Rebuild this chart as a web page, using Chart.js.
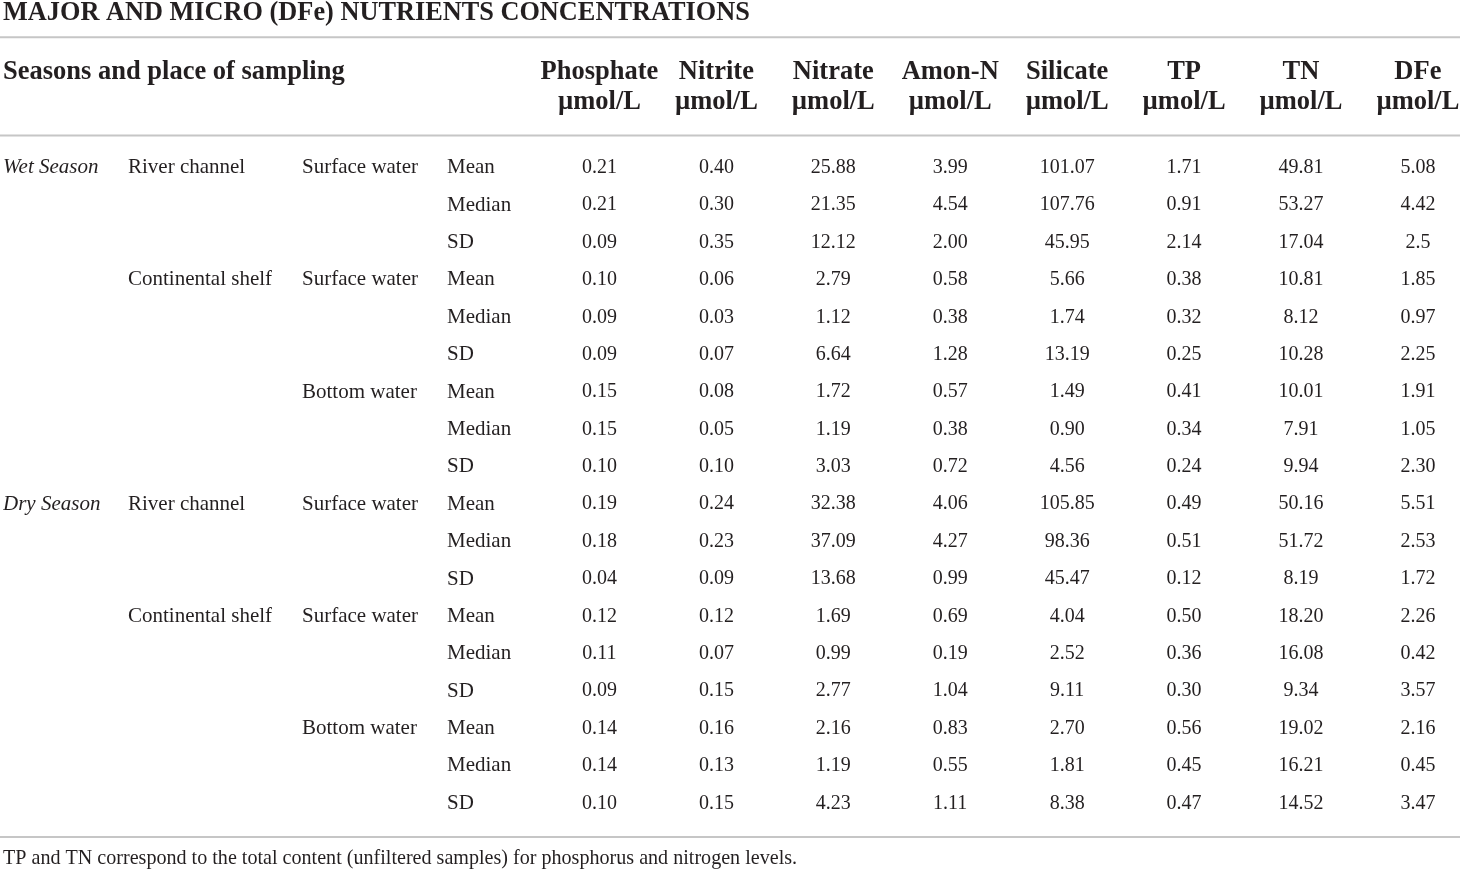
<!DOCTYPE html>
<html>
<head>
<meta charset="utf-8">
<script src="https://cdn.jsdelivr.net/npm/chart.js@4"></script>
<style>
  html, body { margin: 0; padding: 0; background: #fff; }
  #wrap { width: 1460px; height: 869px; }
</style>
</head>
<body>
<div id="wrap"><canvas id="tableChart"></canvas></div>
<script>
// Row labels
const seasonLabels = ['Wet Season', '', '', '', '', '', '', '', '', 'Dry Season', '', '', '', '', '', '', '', ''];
const placeLabels = ['River channel', '', '', 'Continental shelf', '', '', '', '', '', 'River channel', '', '', 'Continental shelf', '', '', '', '', ''];
const waterLabels = ['Surface water', '', '', 'Surface water', '', '', 'Bottom water', '', '', 'Surface water', '', '', 'Surface water', '', '', 'Bottom water', '', ''];
const statLabels = ['Mean', 'Median', 'SD', 'Mean', 'Median', 'SD', 'Mean', 'Median', 'SD',
  'Mean', 'Median', 'SD', 'Mean', 'Median', 'SD', 'Mean', 'Median', 'SD'];

// Column headers
const columnLabels = [
  ['Phosphate', 'µmol/L'], ['Nitrite', 'µmol/L'], ['Nitrate', 'µmol/L'], ['Amon-N', 'µmol/L'],
  ['Silicate', 'µmol/L'], ['TP', 'µmol/L'], ['TN', 'µmol/L'], ['DFe', 'µmol/L']
];

// Values (kept as printed)
const phosphate = ['0.21', '0.21', '0.09', '0.10', '0.09', '0.09', '0.15', '0.15', '0.10', '0.19', '0.18', '0.04', '0.12', '0.11', '0.09', '0.14', '0.14', '0.10'];
const nitrite = ['0.40', '0.30', '0.35', '0.06', '0.03', '0.07', '0.08', '0.05', '0.10', '0.24', '0.23', '0.09', '0.12', '0.07', '0.15', '0.16', '0.13', '0.15'];
const nitrate = ['25.88', '21.35', '12.12', '2.79', '1.12', '6.64', '1.72', '1.19', '3.03', '32.38', '37.09', '13.68', '1.69', '0.99', '2.77', '2.16', '1.19', '4.23'];
const amonN = ['3.99', '4.54', '2.00', '0.58', '0.38', '1.28', '0.57', '0.38', '0.72', '4.06', '4.27', '0.99', '0.69', '0.19', '1.04', '0.83', '0.55', '1.11'];
const silicate = ['101.07', '107.76', '45.95', '5.66', '1.74', '13.19', '1.49', '0.90', '4.56', '105.85', '98.36', '45.47', '4.04', '2.52', '9.11', '2.70', '1.81', '8.38'];
const tp = ['1.71', '0.91', '2.14', '0.38', '0.32', '0.25', '0.41', '0.34', '0.24', '0.49', '0.51', '0.12', '0.50', '0.36', '0.30', '0.56', '0.45', '0.47'];
const tn = ['49.81', '53.27', '17.04', '10.81', '8.12', '10.28', '10.01', '7.91', '9.94', '50.16', '51.72', '8.19', '18.20', '16.08', '9.34', '19.02', '16.21', '14.52'];
const dfe = ['5.08', '4.42', '2.5', '1.85', '0.97', '2.25', '1.91', '1.05', '2.30', '5.51', '2.53', '1.72', '2.26', '0.42', '3.57', '2.16', '0.45', '3.47'];

const columns = [phosphate, nitrite, nitrate, amonN, silicate, tp, tn, dfe];

const FONT = "'Liberation Serif', 'Times New Roman', serif";
const TEXT = '#231f20';
const RULE = '#c6c6c6';
const HEAD_LINE = 30;
const HEAD_GAP = 31.8;
const labelFont = { family: FONT, size: 21 };
const numberSize = 20;
const headFont = { family: FONT, size: 26.5, weight: 'bold', lineHeight: HEAD_LINE + 'px' };

// draws the cell values, header text and the horizontal rules
const tablePlugin = {
  id: 'tablePlugin',
  afterDraw(chart) {
    const ctx = chart.ctx;
    const x = chart.scales.x;
    const y = chart.scales.stat;
    const area = chart.chartArea;

    ctx.save();
    ctx.fillStyle = TEXT;
    ctx.font = numberSize + 'px ' + FONT;
    ctx.textAlign = 'center';
    ctx.textBaseline = 'middle';
    columns.forEach((col, i) => {
      col.forEach((v, j) => {
        ctx.fillText(v, x.getPixelForValue(i), y.getPixelForValue(j));
      });
    });

    // left header cell
    ctx.font = 'bold ' + headFont.size + 'px ' + FONT;
    ctx.textAlign = 'left';
    const headY = x.bottom - HEAD_GAP - 1.5 * HEAD_LINE;
    ctx.fillText('Seasons and place of sampling', chart.scales.season.left, headY);

    // rules
    ctx.strokeStyle = RULE;
    ctx.lineWidth = 2;
    const rules = [chart.titleBlock.bottom - 4, area.top - 13.5, area.bottom + 15];
    rules.forEach(r => {
      ctx.beginPath();
      ctx.moveTo(0, r);
      ctx.lineTo(chart.width, r);
      ctx.stroke();
    });
    ctx.restore();
  }
};

function leftAxis(labels, weight, width, font) {
  return {
    type: 'category',
    position: 'left',
    labels: labels,
    offset: true,
    weight: weight,
    grid: { display: false, drawTicks: false },
    border: { display: false },
    ticks: {
      autoSkip: false,
      crossAlign: 'far',
      padding: 0,
      color: TEXT,
      font: font || labelFont
    },
    afterFit: scale => { scale.width = width; }
  };
}

new Chart(document.getElementById('tableChart'), {
  type: 'scatter',
  data: {
    datasets: [{
      data: [],
      xAxisID: 'x',
      yAxisID: 'stat',
      pointRadius: 0
    }]
  },
  options: {
    responsive: true,
    maintainAspectRatio: false,
    animation: false,
    layout: { padding: { left: 3, right: 0, top: 0, bottom: 0 } },
    scales: {
      x: {
        type: 'linear',
        position: 'top',
        min: -0.5,
        max: 7.36,
        // invisible tick marks keep the header text clear of the first row
        grid: { display: false, drawTicks: true, tickLength: HEAD_GAP, color: 'rgba(0,0,0,0)' },
        border: { display: false },
        ticks: {
          stepSize: 1,
          includeBounds: false,
          autoSkip: false,
          maxRotation: 0,
          padding: 0,
          color: TEXT,
          font: headFont,
          callback: v => (Number.isInteger(v) && columnLabels[v]) ? columnLabels[v] : ''
        },
        afterFit: scale => { scale.height = 107.8; }
      },
      stat: leftAxis(statLabels, 1, 94),
      water: leftAxis(waterLabels, 2, 145),
      place: leftAxis(placeLabels, 3, 174),
      season: leftAxis(seasonLabels, 4, 125, { family: FONT, size: 21, style: 'italic' })
    },
    plugins: {
      legend: { display: false },
      tooltip: { enabled: false },
      title: {
        display: true,
        text: 'MAJOR AND MICRO (DFe) NUTRIENTS CONCENTRATIONS',
        align: 'start',
        color: TEXT,
        font: { family: FONT, size: 26.3, weight: 'bold', lineHeight: 1 },
        padding: { top: 0, bottom: 15 }
      },
      subtitle: {
        display: true,
        position: 'bottom',
        text: 'TP and TN correspond to the total content (unfiltered samples) for phosphorus and nitrogen levels.',
        align: 'start',
        color: TEXT,
        font: { family: FONT, size: 20.1, lineHeight: 1.2 },
        padding: { top: 24.9, bottom: -2 }
      }
    }
  },
  plugins: [tablePlugin]
});
</script>
</body>
</html>
